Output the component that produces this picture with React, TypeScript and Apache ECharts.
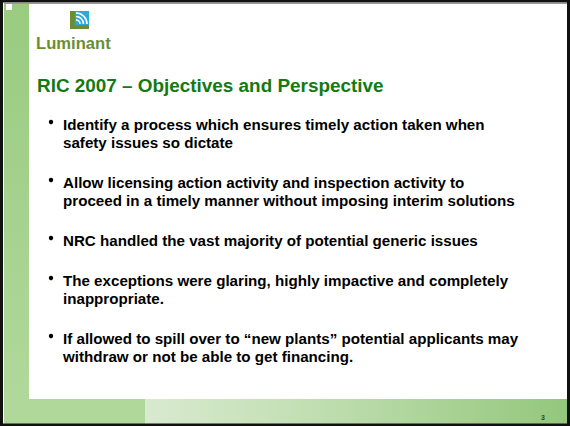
import React, { useEffect, useRef } from "react";
import * as echarts from "echarts";

const logoText = "Luminant";
const titleText = "RIC 2007 – Objectives and Perspective";
const bullets: string[][] = [
  ["Identify a process which ensures timely action taken when", "safety issues so dictate"],
  ["Allow licensing action activity and inspection activity to", "proceed in a timely manner without imposing interim solutions"],
  ["NRC handled the vast majority of potential generic issues"],
  ["The exceptions were glaring, highly impactive and completely", "inappropriate."],
  ["If allowed to spill over to “new plants” potential applicants may", "withdraw or not be able to get financing."],
];
const pageNumber = "3";

const FONT = "'Liberation Sans', Arial, Helvetica, sans-serif";

function buildGraphic() {
  const els: any[] = [];
  // background
  els.push({ type: "rect", shape: { x: 0, y: 0, width: 570, height: 426 }, style: { fill: "#ffffff" } });
  // left strip
  els.push({
    type: "rect",
    shape: { x: 4, y: 3, width: 25, height: 397 },
    style: {
      fill: new echarts.graphic.LinearGradient(0, 0, 0, 1, [
        { offset: 0, color: "#99cb80" },
        { offset: 1, color: "#b0d89b" },
      ]),
    },
  });
  // bottom band solid part
  els.push({ type: "rect", shape: { x: 4, y: 399, width: 141, height: 25 }, style: { fill: "#b0d89b" } });
  // bottom band gradient part
  els.push({
    type: "rect",
    shape: { x: 145, y: 399, width: 422, height: 25 },
    style: {
      fill: new echarts.graphic.LinearGradient(0, 0, 1, 0, [
        { offset: 0, color: "#d8eacf" },
        { offset: 0.35, color: "#c4e0b6" },
        { offset: 1, color: "#94c77c" },
      ]),
    },
  });
  // small white square top-left
  els.push({ type: "rect", shape: { x: 6, y: 4, width: 6, height: 6 }, style: { fill: "#ffffff" } });
  // border
  els.push({ type: "rect", shape: { x: 1.5, y: 1, width: 567, height: 424 }, style: { fill: "none", stroke: "#111111", lineWidth: 3 } });
  els.push({ type: "line", shape: { x1: 4, y1: 3.5, x2: 567, y2: 3.5 }, style: { stroke: "#9a9a9a", lineWidth: 1 } });

  // logo
  els.push({ type: "rect", shape: { x: 75, y: 11, width: 14, height: 14 }, style: { fill: "#2aa9df" } });
  [4, 7.5, 11].forEach((r) => {
    els.push({
      type: "arc",
      shape: { cx: 76, cy: 24, r, startAngle: -Math.PI / 2, endAngle: 0, clockwise: true },
      style: { stroke: "#ffffff", lineWidth: 1.6, fill: "none" },
    });
  });
  els.push({ type: "rect", shape: { x: 70, y: 11, width: 5, height: 18 }, style: { fill: "#6b8e34" } });
  els.push({ type: "rect", shape: { x: 70, y: 25, width: 19, height: 4 }, style: { fill: "#6b8e34" } });
  els.push({
    type: "text",
    x: 36,
    y: 43,
    style: { text: logoText, font: `bold 16.6px ${FONT}`, fill: "#6b8e34", verticalAlign: "middle", align: "left" },
  });

  // title
  els.push({
    type: "text",
    x: 37,
    y: 85,
    style: { text: titleText, font: `bold 18.9px ${FONT}`, fill: "#137a13", verticalAlign: "middle", align: "left" },
  });

  // bullets
  const lineH = 18;
  const gap = 22;
  let y = 124;
  bullets.forEach((lines) => {
    els.push({ type: "circle", shape: { cx: 51, cy: y - 2, r: 2.2 }, style: { fill: "#000000" } });
    lines.forEach((ln, i) => {
      els.push({
        type: "text",
        x: 63,
        y: y + i * lineH,
        style: { text: ln, font: `bold 15.15px ${FONT}`, fill: "#000000", verticalAlign: "middle", align: "left" },
      });
    });
    y += lines.length * lineH + gap;
  });

  // page number
  els.push({
    type: "text",
    x: 543,
    y: 417,
    style: { text: pageNumber, font: `bold 7px ${FONT}`, fill: "#2f4a2a", verticalAlign: "middle", align: "center" },
  });
  return els;
}

export default function App() {
  const ref = useRef<HTMLDivElement>(null);
  useEffect(() => {
    if (!ref.current) return;
    const chart = echarts.init(ref.current, undefined, { renderer: "svg" });
    chart.setOption({
      animation: false,
      backgroundColor: "#ffffff",
      graphic: { elements: buildGraphic() },
    });
    return () => chart.dispose();
  }, []);
  return (
    <div
      ref={ref}
      style={{ position: "fixed", left: 0, top: 0, width: 570, height: 426 }}
    />
  );
}
